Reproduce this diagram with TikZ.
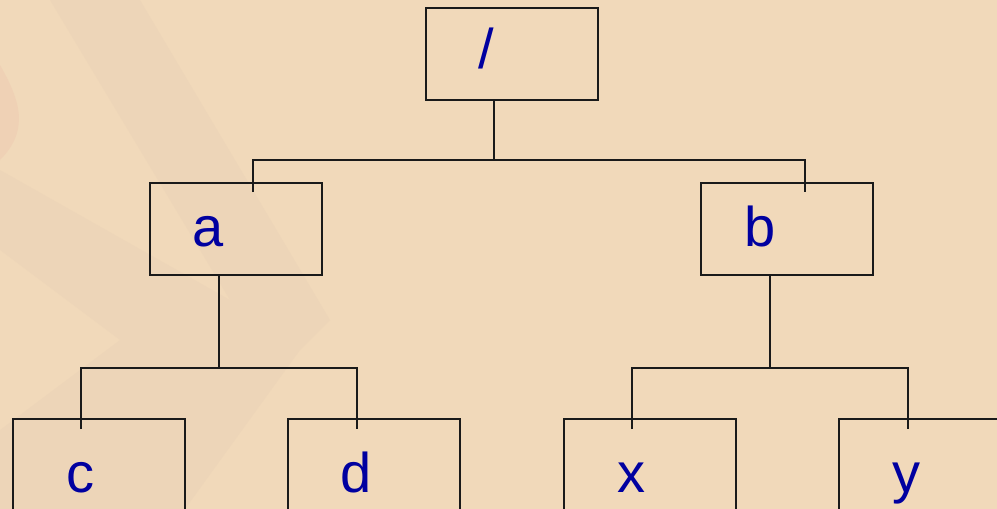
\documentclass[tikz,border=0pt]{standalone}
\usepackage{fontspec}
\setmainfont{Liberation Sans}
\definecolor{bg}{HTML}{F1D9BA}
\definecolor{bgdark}{HTML}{EBD3B7}
\definecolor{bgpink}{HTML}{EFCCB2}
\definecolor{txtblue}{RGB}{0,0,160}
\definecolor{edge}{HTML}{1A1A1A}
\tikzset{
  treebox/.style={draw=edge, line width=2pt, rectangle, minimum width=172pt, minimum height=92pt, inner sep=0pt},
  lbl/.style={text=txtblue, font=\fontsize{56}{60}\selectfont, anchor=base, inner sep=0pt},
  conn/.style={draw=edge, line width=2pt}
}
\begin{document}
\begin{tikzpicture}[x=1pt,y=-1pt]
\useasboundingbox (0,0) rectangle (997,509);
\fill[bg] (0,0) rectangle (997,509);
% faint watermark
\fill[bgdark, opacity=0.6] (50,0) -- (140,0) -- (330,320) -- (300,350) -- (185,509) -- (0,509) -- (0,430) -- (120,340) -- (0,250) -- (0,170) -- (230,300) -- cycle;
\fill[bgpink, opacity=0.6] (0,65) .. controls (20,100) and (30,130) .. (0,160) -- cycle;
% boxes
\node[treebox] (root) at (512,53.5) {};
\node[treebox] (a) at (236,229) {};
\node[treebox] (b) at (787,229) {};
\node[treebox] (c) at (98.5,465) {};
\node[treebox] (d) at (374,465) {};
\node[treebox] (x) at (650,465) {};
\node[treebox] (y) at (925,465) {};
% labels
\node[lbl] (troot) at (486,68) {/};
\node[lbl] (ta) at (208,246) {a};
\node[lbl] (tb) at (760,246) {b};
\node[lbl] (tc) at (80,492) {c};
\node[lbl] (td) at (356,492) {d};
\node[lbl] (tx) at (631,492) {x};
\node[lbl] (ty) at (906,492) {y};
% junctions and drop ends
\coordinate (j0) at (494,160);
\coordinate (ea) at (253,192);
\coordinate (eb) at (805,192);
\coordinate (j1) at (219,368);
\coordinate (ec) at (81,429);
\coordinate (ed) at (357,429);
\coordinate (j2) at (770,368);
\coordinate (ex) at (632,429);
\coordinate (ey) at (908,429);
% connectors
\draw[conn] (root.south -| j0) -- (j0);
\draw[conn] (ea) -- (ea |- j0) -- (eb |- j0) -- (eb);
\draw[conn] (a.south -| j1) -- (j1);
\draw[conn] (ec) -- (ec |- j1) -- (ed |- j1) -- (ed);
\draw[conn] (b.south -| j2) -- (j2);
\draw[conn] (ex) -- (ex |- j2) -- (ey |- j2) -- (ey);
\end{tikzpicture}
\end{document}
